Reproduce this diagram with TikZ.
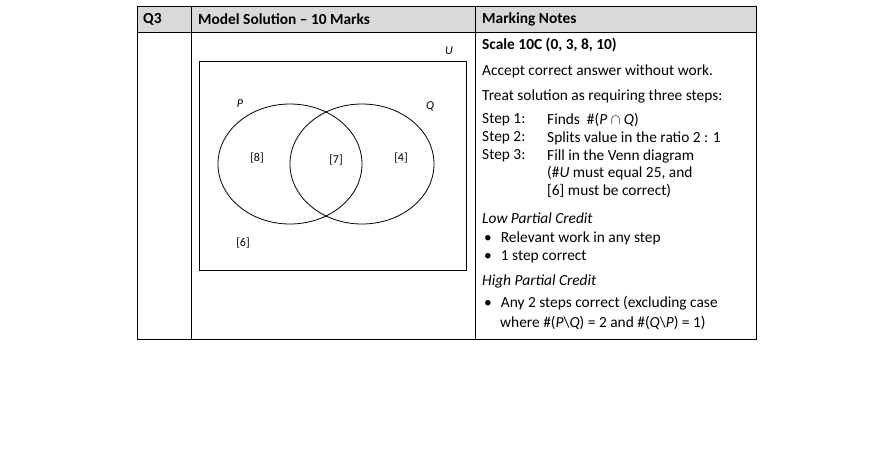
\documentclass[tikz,border=0pt]{standalone}
\usepackage{fontspec}
\setmainfont{Carlito}
\usepackage{tikz}
\tikzset{
    cell/.style = {draw=black, line width=0.8pt},
    txt/.style = {anchor=west, inner sep=0pt, font=\fontsize{15.4}{17}\selectfont},
    lbl/.style = {inner sep=0pt, font=\fontsize{12}{14}\selectfont},
    venn/.style = {draw=black, line width=0.8pt}
}
\begin{document}
\begin{tikzpicture}[x=1pt, y=-1pt]
    \useasboundingbox (0,0) rectangle (892,456);
    % table
    \fill [black!15] (137,6) rectangle (756,32);
    \draw [cell] (137,6) rectangle (756,339);
    \draw [cell] (137,32) -- (756,32);
    \draw [cell] (191,6) -- (191,339);
    \draw [cell] (475,6) -- (475,339);
    \node [txt] (hq) at (143,19) {\textbf{Q3}};
    \node [txt] (hm) at (198,19) {\textbf{Model Solution – 10 Marks}};
    \node [txt] (hn) at (482,19) {\textbf{Marking Notes}};
    % venn diagram
    \draw [venn] (199,61) rectangle (466,270);
    \draw [venn] (290,164) ellipse (72 and 60);
    \draw [venn] (362,164) ellipse (72 and 60);
    \node [lbl] (u) at (449,51) {\textit{U}};
    \node [lbl] (p) at (240,104) {\textit{P}};
    \node [lbl] (q) at (430,106) {\textit{Q}};
    \node [lbl] (a) at (257,158) {[8]};
    \node [lbl] (b) at (336,160) {[7]};
    \node [lbl] (c) at (401,158) {[4]};
    \node [lbl] (d) at (243,243) {[6]};
    % notes
    \node [txt] (n1) at (482,45) {\textbf{Scale 10C (0, 3, 8, 10)}};
    \node [txt] (n2) at (482,71) {Accept correct answer without work.};
    \node [txt] (n3) at (482,96) {Treat solution as requiring three steps:};
    \node [txt] (s1) at (482,120) {Step 1:};
    \node [txt] (t1) at (547,120) {Finds \ \#(\textit{P} $\cap$ \textit{Q})};
    \node [txt] (s2) at (482,138) {Step 2:};
    \node [txt] (t2) at (547,138) {Splits value in the ratio 2 : 1};
    \node [txt] (s3) at (482,156) {Step 3:};
    \node [txt] (t3) at (547,156) {Fill in the Venn diagram};
    \node [txt] (t4) at (547,173) {(\#\textit{U} must equal 25, and};
    \node [txt] (t5) at (547,191) {[6] must be correct)};
    \node [txt] (low) at (482,218) {\textit{Low Partial Credit}};
    \node [txt] (l1) at (484,238) {•\hspace{9pt}Relevant work in any step};
    \node [txt] (l2) at (484,257) {•\hspace{9pt}1 step correct};
    \node [txt] (high) at (482,281) {\textit{High Partial Credit}};
    \node [txt] (h1) at (484,303) {•\hspace{9pt}Any 2 steps correct (excluding case};
    \node [txt] (h2) at (500,323) {where \#(\textit{P}\textbackslash\textit{Q}) = 2 and \#(\textit{Q}\textbackslash\textit{P}) = 1)};
\end{tikzpicture}
\end{document}
